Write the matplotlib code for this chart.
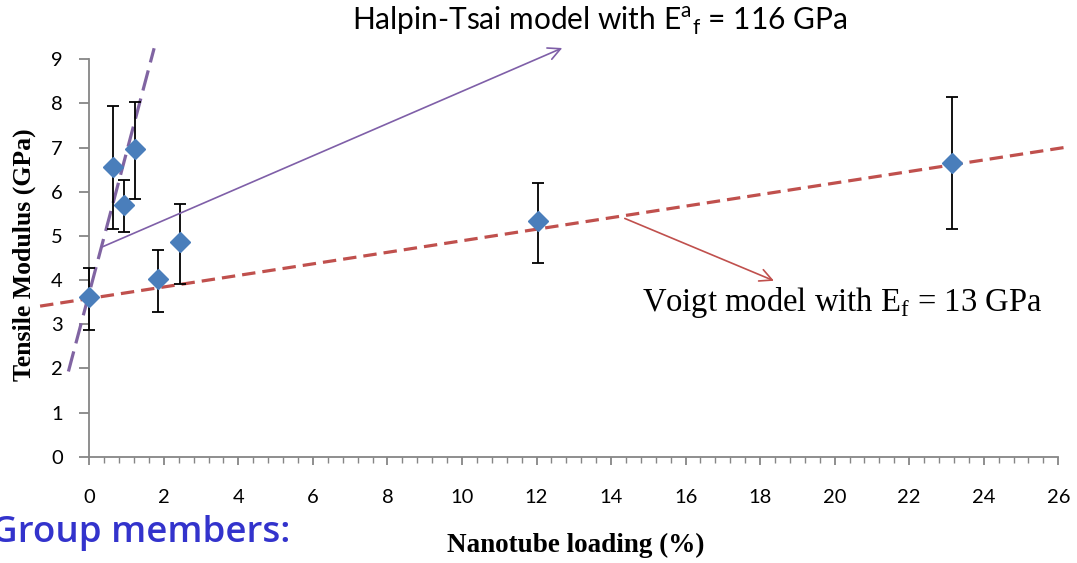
import numpy as np
import matplotlib
matplotlib.use("Agg")
import matplotlib.pyplot as plt
from matplotlib.ticker import MultipleLocator

# measured data (nanotube loading %, tensile modulus GPa)
loading = [0.0, 0.63, 0.94, 1.24, 1.85, 2.43, 12.04, 23.14]
modulus = [3.62, 6.57, 5.70, 6.97, 4.02, 4.86, 5.34, 6.66]
err_hi = [4.27, 7.94, 6.27, 8.04, 4.67, 5.72, 6.19, 8.15]
err_lo = [2.87, 5.16, 5.08, 5.84, 3.28, 3.91, 4.39, 5.16]

# model lines (end points)
voigt_x = [-1.32, 26.22]
voigt_y = [3.41, 7.01]
halpin_x = [-0.56, 1.74]
halpin_y = [1.93, 9.25]

x_ticks = list(range(0, 27, 2))
y_ticks = list(range(0, 10))

sans = "Lato"
serif = "Liberation Serif"

fig = plt.figure(figsize=(10.77, 5.63), dpi=100)
ax = fig.add_axes([0.0829, 0.1888, 0.8997, 0.7059])

ax.plot(voigt_x, voigt_y, color="#C0504D", lw=2.3, dashes=(4.2, 2.2),
        clip_on=False, zorder=2)
ax.plot(halpin_x, halpin_y, color="#8064A2", lw=2.3, dashes=(6.5, 2.6),
        clip_on=False, zorder=2)

y = np.array(modulus)
yerr = [y - np.array(err_lo), np.array(err_hi) - y]
ax.errorbar(loading, modulus, yerr=yerr, fmt="none", ecolor="black",
            elinewidth=1.3, capsize=4, capthick=1.3, zorder=3, clip_on=False)
ax.plot(loading, modulus, "D", color="#4A7EBB", ms=10, mec="#4A7EBB",
        zorder=4, clip_on=False)

ax.set_xlim(0, 26)
ax.set_ylim(0, 9)
ax.set_xticks(x_ticks)
ax.set_yticks(y_ticks)
ax.xaxis.set_minor_locator(MultipleLocator(0.4))

for s in ["top", "right"]:
    ax.spines[s].set_visible(False)
for s in ["left", "bottom"]:
    ax.spines[s].set_color("#868686")
    ax.spines[s].set_linewidth(1.3)

ax.tick_params(axis="x", which="major", direction="out", length=6, width=1.3,
               color="#868686", pad=17, labelsize=14.5)
ax.tick_params(axis="x", which="minor", direction="out", length=4, width=1.0,
               color="#868686")
ax.tick_params(axis="y", direction="out", length=7, width=1.3,
               color="#868686", pad=12, labelsize=14.5)
for lab in ax.get_xticklabels() + ax.get_yticklabels():
    lab.set_fontfamily(sans)

# annotations
ax.annotate("", xy=(12.76, 9.28), xytext=(0.29, 4.73),
            arrowprops=dict(arrowstyle="->", color="#7F5FA8", lw=1.2,
                            mutation_scale=22),
            annotation_clip=False)
ax.annotate("", xy=(18.44, 3.96), xytext=(14.3, 5.42),
            arrowprops=dict(arrowstyle="->", color="#C0504D", lw=1.2,
                            mutation_scale=22),
            annotation_clip=False)

fig.text(0.557, 0.962, r"Halpin-Tsai model with E$^{\mathregular{a}}$$_{\mathregular{f}}$ = 116 GPa",
         ha="center", va="center", fontsize=21.5, family=sans)
fig.text(0.782, 0.462, r"Voigt model with E$_{\mathregular{f}}$ = 13 GPa",
         ha="center", va="center", fontsize=23.5, family=serif)

fig.text(0.023, 0.547, "Tensile Modulus (GPa)", rotation=90, ha="center",
         va="center", fontsize=18.5, family=serif, weight="bold")
fig.text(0.535, 0.032, "Nanotube loading (%)", ha="center", va="center",
         fontsize=19.5, family=serif, weight="bold")

fig.text(-0.008, 0.053, "Group members:", ha="left", va="center",
         fontsize=26.5, family="Open Sans", weight="semibold", color="#3333CC")

fig.savefig("out.png", dpi=100)
